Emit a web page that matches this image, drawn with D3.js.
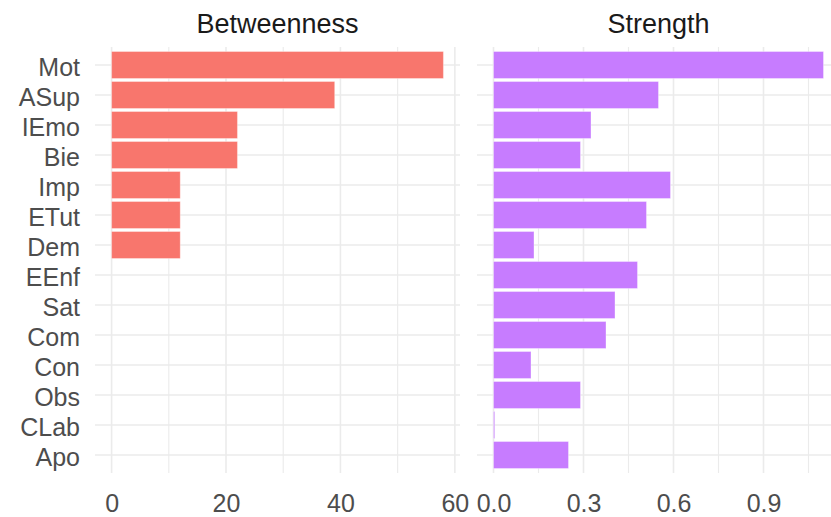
<!DOCTYPE html>
<html>
<head>
<meta charset="utf-8">
<script src="https://cdn.jsdelivr.net/npm/d3@7"></script>
<style>
  html, body { margin: 0; padding: 0; background: #fff; }
  svg { display: block; font-family: "Liberation Sans", Arial, sans-serif; }
</style>
</head>
<body>
<svg id="chart" width="831" height="517"></svg>
<script>
const categories = ["Mot","ASup","IEmo","Bie","Imp","ETut","Dem","EEnf","Sat","Com","Con","Obs","CLab","Apo"];
const betweenness = [58, 39, 22, 22, 12, 12, 12, 0, 0, 0, 0, 0, 0, 0];
const strength = [1.10, 0.55, 0.325, 0.29, 0.59, 0.51, 0.135, 0.48, 0.405, 0.375, 0.125, 0.29, 0.004, 0.25];
const betweennessTicks = [0, 20, 40, 60];
const strengthTicks = [0, 0.3, 0.6, 0.9];
const panelTitles = ["Betweenness", "Strength"];

const svg = d3.select("#chart");
const panelTop = 47, panelBottom = 473;

const y = d3.scaleBand().domain(categories).range([panelTop, panelBottom]).paddingInner(0.1).paddingOuter(0.15);

const panels = [
  { title: panelTitles[0], values: betweenness, ticks: betweennessTicks, color: "#F8766D",
    range: [95, 460], fmt: d3.format("d") },
  { title: panelTitles[1], values: strength, ticks: strengthTicks, color: "#C77CFF",
    range: [477, 840], fmt: d3.format(".1f") }
];

panels.forEach(p => {
  const max = d3.max(p.values);
  const ext = max * 0.05;
  const x = d3.scaleLinear().domain([-ext, max + ext]).range(p.range);
  const step = p.ticks[1] - p.ticks[0];
  const g = svg.append("g");

  const minor = [];
  for (let v = p.ticks[0] + step / 2; v <= max + ext; v += step) minor.push(v);
  g.selectAll(".minor").data(minor).join("line")
    .attr("x1", d => x(d)).attr("x2", d => x(d))
    .attr("y1", panelTop).attr("y2", panelBottom)
    .attr("stroke", "#ebebeb").attr("stroke-width", 1.1);
  g.selectAll(".major").data(p.ticks).join("line")
    .attr("x1", d => x(d)).attr("x2", d => x(d))
    .attr("y1", panelTop).attr("y2", panelBottom)
    .attr("stroke", "#ebebeb").attr("stroke-width", 1.6);
  g.selectAll(".hgrid").data(categories).join("line")
    .attr("x1", p.range[0]).attr("x2", p.range[1])
    .attr("y1", d => y(d) + y.bandwidth() / 2).attr("y2", d => y(d) + y.bandwidth() / 2)
    .attr("stroke", "#ebebeb").attr("stroke-width", 1.6);

  g.selectAll(".bar").data(categories.map((c, i) => ({ c, v: p.values[i] })).filter(d => d.v > 0))
    .join("rect")
    .attr("x", x(0))
    .attr("y", d => y(d.c))
    .attr("width", d => Math.max(0, x(d.v) - x(0)))
    .attr("height", y.bandwidth())
    .attr("fill", p.color)
    .attr("stroke", "#ffffff").attr("stroke-opacity", 0.35).attr("stroke-width", 1);

  const axis = d3.axisBottom(x).tickValues(p.ticks).tickFormat(p.fmt).tickSize(0).tickPadding(0);
  const ag = g.append("g").attr("transform", `translate(0, 494)`).call(axis);
  ag.select(".domain").remove();
  ag.selectAll("text").attr("font-size", 25).attr("fill", "#4d4d4d")
    .attr("font-family", '"Liberation Sans", Arial, sans-serif').attr("dy", "0.71em");

  g.append("text")
    .attr("x", (p.range[0] + p.range[1]) / 2).attr("y", 33)
    .attr("text-anchor", "middle").attr("font-size", 27).attr("fill", "#1a1a1a")
    .text(p.title);
});

const yAxis = d3.axisLeft(y).tickSize(0).tickPadding(0);
const yg = svg.append("g").attr("transform", "translate(80,0)").call(yAxis);
yg.select(".domain").remove();
yg.selectAll("text").attr("font-size", 25).attr("fill", "#4d4d4d")
  .attr("font-family", '"Liberation Sans", Arial, sans-serif').attr("dy", "0.44em");
</script>
</body>
</html>
